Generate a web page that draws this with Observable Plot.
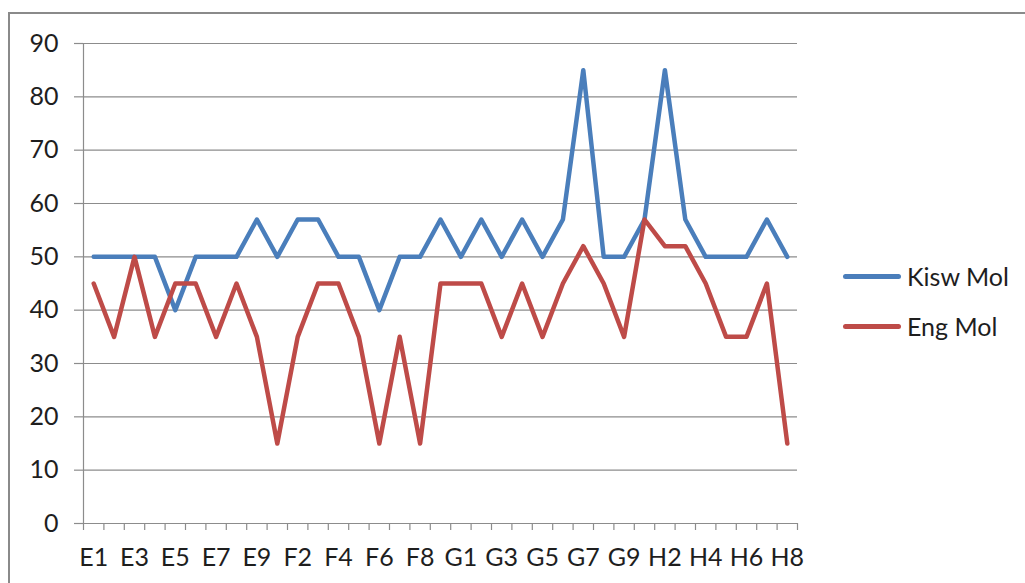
<!DOCTYPE html>
<html>
<head>
<meta charset="utf-8">
<script src="https://cdn.jsdelivr.net/npm/d3@7"></script>
<script src="https://cdn.jsdelivr.net/npm/@observablehq/plot@0.6"></script>
<style>
  html, body { margin: 0; padding: 0; background: #fff; overflow: hidden; width: 1025px; height: 583px; }
  #wrap { position: relative; width: 1025px; height: 583px; }
  #border { position: absolute; left: 8px; top: 12px; width: 1100px; height: 700px; border: 2px solid #8a8a8a; box-sizing: border-box; }
  #chart { position: absolute; left: 0; top: 0; }
  .legend { position: absolute; left: 843px; font-family: Lato, "Open Sans", sans-serif; font-size: 25px; color: #1e1e1e; display: flex; align-items: center; }
  .legend span.sw { display: inline-block; width: 58px; height: 5px; border-radius: 3px; margin-right: 6px; }
</style>
</head>
<body>
<div id="wrap">
  <div id="border"></div>
  <div id="chart"></div>
  <div class="legend" style="top:261px"><span class="sw" style="background:#4a7ebb"></span>Kisw Mol</div>
  <div class="legend" style="top:311px"><span class="sw" style="background:#be4b48"></span>Eng Mol</div>
</div>
<script>
const categories = ["E1","E2","E3","E4","E5","E6","E7","E8","E9",
  "F1","F2","F3","F4","F5","F6","F7","F8","F9",
  "G1","G2","G3","G4","G5","G6","G7","G8","G9",
  "H1","H2","H3","H4","H5","H6","H7","H8"];
const kiswMol = [50,50,50,50,40,50,50,50,57,
  50,57,57,50,50,40,50,50,57,
  50,57,50,57,50,57,85,50,50,
  57,85,57,50,50,50,57,50];
const engMol = [45,35,50,35,45,45,35,45,35,
  15,35,45,45,35,15,35,15,45,
  45,45,35,45,35,45,52,45,35,
  57,52,52,45,35,35,45,15];
const yTicks = [0,10,20,30,40,50,60,70,80,90];
const seriesNames = ["Kisw Mol", "Eng Mol"];
const seriesColors = ["#4a7ebb", "#be4b48"];

const rows = [];
categories.forEach((c, i) => {
  rows.push({cat: c, series: seriesNames[0], value: kiswMol[i]});
  rows.push({cat: c, series: seriesNames[1], value: engMol[i]});
});

const W = 1025, H = 583;
const mL = 83, mR = 228, mT = 43, mB = 60;
const step = (W - mL - mR) / categories.length;
const gridColor = "#8c8c8c";

const chart = Plot.plot({
  width: W, height: H,
  marginLeft: mL, marginRight: mR, marginTop: mT, marginBottom: mB,
  style: {fontFamily: "Lato, 'Open Sans', sans-serif", fontSize: "25px", color: "#1e1e1e", background: "transparent", overflow: "visible"},
  x: {type: "point", domain: categories, padding: 0.5, round: false, label: null},
  y: {domain: [0, 90], label: null},
  color: {domain: seriesNames, range: seriesColors},
  marks: [
    Plot.gridY(yTicks, {stroke: gridColor, strokeOpacity: 1, strokeWidth: 1.2}),
    Plot.axisY(yTicks, {tickSize: 9, tickPadding: 16, stroke: gridColor, strokeWidth: 1.2, label: null, fontSize: 25}),
    Plot.ruleX([categories[0]], {dx: -step / 2, y1: 0, y2: 90, stroke: gridColor, strokeWidth: 1.2}),
    Plot.ruleX(categories, {x: d => d, dx: -step / 2, y1: 0, y2: 0, insetBottom: -7, stroke: gridColor, strokeWidth: 1.2}),
    Plot.ruleX([categories[categories.length - 1]], {dx: step / 2, y1: 0, y2: 0, insetBottom: -7, stroke: gridColor, strokeWidth: 1.2}),
    Plot.axisX({tickSize: 0, tickPadding: 25, label: null, fontSize: 25,
      tickFormat: (d) => categories.indexOf(d) % 2 === 0 ? d : ""}),
    Plot.line(rows, {x: "cat", y: "value", z: "series", stroke: "series", strokeWidth: 4.5, strokeLinejoin: "round", strokeLinecap: "round"})
  ]
});
document.getElementById("chart").appendChild(chart);
</script>
</body>
</html>
